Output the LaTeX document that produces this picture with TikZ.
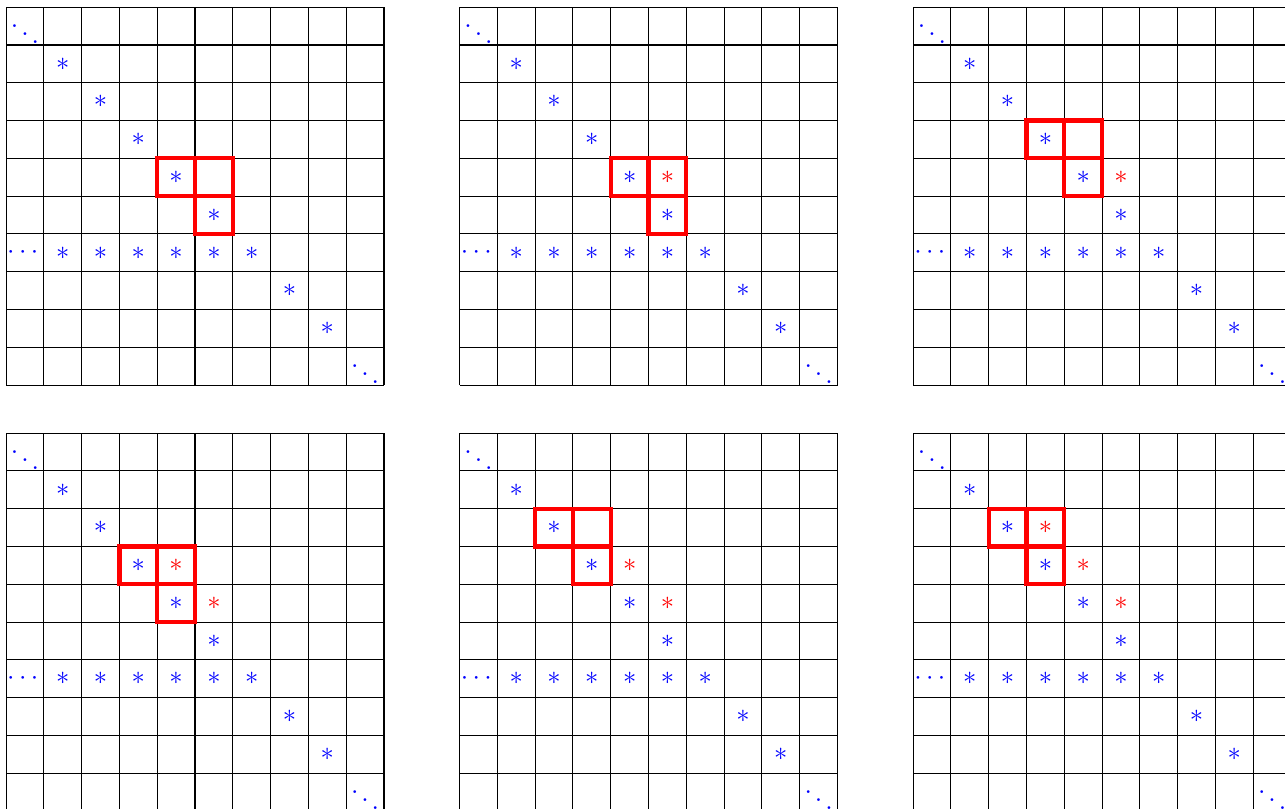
\documentclass[tikz,border=0pt]{standalone}
\usepackage{amsmath,amssymb}
\usepackage{xcolor}
\usepackage{tikz}
\usetikzlibrary{calc}
\definecolor{entryblue}{HTML}{0000FF}
\definecolor{pivotred}{HTML}{FF0000}
\tikzset{
  gridline/.style={black, thin},
  blueentry/.style={inner sep=0pt, text=entryblue},
  redentry/.style={inner sep=0pt, text=pivotred},
  pivotbox/.style={draw=pivotred, ultra thick},
}
\begin{document}
\begin{tikzpicture}[x=0.5cm,y=-0.5cm]
  \useasboundingbox (-0.16,-0.19) rectangle (33.84,21.21);
  \clip (-0.16,-0.19) rectangle (33.84,21.21);

  %% six copies of the matrix, pivot block at (\k,\k)
  \foreach \gx/\gy/\g/\k in {0/0/1/4, 12/0/2/4, 24/0/3/3, 0/11.27/4/3, 12/11.27/5/2, 24/11.27/6/2} {
    \begin{scope}[shift={(\gx,\gy)}]
      %% Grid
      \foreach \i in {0,...,10} {
        \draw[gridline] (\i,0) -- (\i,10);
        \draw[gridline] (0,\i) -- (10,\i);
      }
      %% Pivot block
      \draw[pivotbox] (\k,\k) rectangle ++(1,1);
      \draw[pivotbox] (\k+1,\k) rectangle ++(1,1);
      \draw[pivotbox] (\k+1,\k+1) rectangle ++(1,1);
      %% Entries
      \node[blueentry] (g\g-0-0) at (0.5,0.5) {$\ddots$};
      \foreach \i in {1,...,8}
        \node[blueentry] (g\g-\i-\i) at (\i+0.5,\i+0.5) {$\ast$};
      \node[blueentry] (g\g-6-0) at (0.5,6.5) {$\cdots$};
      \foreach \c in {1,...,5}
        \node[blueentry] (g\g-6-\c) at (\c+0.5,6.5) {$\ast$};
      \node[blueentry] (g\g-9-9) at (9.5,9.5) {$\ddots$};
    \end{scope}
  }

  %% fill-in
  \node[redentry] (g2-4-5) at (12+5.5,4.5) {$\ast$};
  \node[redentry] (g3-4-5) at (24+5.5,4.5) {$\ast$};
  \node[redentry] (g4-4-5) at (5.5,11.27+4.5) {$\ast$};
  \node[redentry] (g4-3-4) at (4.5,11.27+3.5) {$\ast$};
  \node[redentry] (g5-4-5) at (12+5.5,11.27+4.5) {$\ast$};
  \node[redentry] (g5-3-4) at (12+4.5,11.27+3.5) {$\ast$};
  \node[redentry] (g6-4-5) at (24+5.5,11.27+4.5) {$\ast$};
  \node[redentry] (g6-3-4) at (24+4.5,11.27+3.5) {$\ast$};
  \node[redentry] (g6-2-3) at (24+3.5,11.27+2.5) {$\ast$};
\end{tikzpicture}
\end{document}
